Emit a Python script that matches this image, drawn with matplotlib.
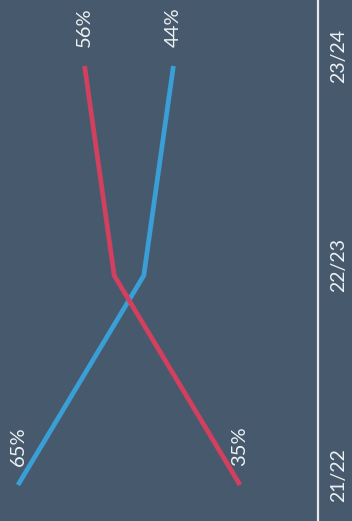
import matplotlib.pyplot as plt
import matplotlib.transforms as mtransforms

seasons = ["21/22", "22/23", "23/24"]
blue_vals = [65, 48, 44]
red_vals = [35, 52, 56]

bg = "#475a6d"
blue = "#3a9fd6"
red = "#d3405f"
txt = "#eef1f3"

plt.rcParams["font.family"] = ["Lato", "DejaVu Sans"]

fig = plt.figure(figsize=(3.52, 5.21), dpi=100, facecolor=bg)
ax = fig.add_axes([0, 0, 318 / 352, 1])
ax.set_facecolor(bg)

pos = list(range(len(seasons)))
ax.plot(blue_vals, pos, color=blue, lw=3.4, solid_capstyle="butt")
ax.plot(red_vals, pos, color=red, lw=3.4, solid_capstyle="butt")

# value labels at the ends of each line
for vals in (blue_vals, red_vals):
    for i in (0, len(vals) - 1):
        ax.annotate(f"{vals[i]}%", (vals[i], pos[i]), xytext=(0, 14),
                    textcoords="offset points", rotation=90,
                    ha="center", va="bottom", color=txt, fontsize=14.5)

ax.set_xlim(67.43, 24.46)
ax.set_ylim(-0.172, 2.315)

ax.set_xticks([])
ax.set_yticks(pos)
ax.set_yticklabels(seasons, rotation=90, va="center", color=txt, fontsize=14)
ax.yaxis.tick_right()
ax.tick_params(axis="y", length=0, pad=9)
shift = mtransforms.ScaledTranslation(0, 10 / 100, fig.dpi_scale_trans)
for lab in ax.get_yticklabels():
    lab.set_transform(lab.get_transform() + shift)

for s in ("top", "bottom", "left"):
    ax.spines[s].set_visible(False)
ax.spines["right"].set_color("#e6e9ec")
ax.spines["right"].set_linewidth(1.6)

fig.savefig("out.png", dpi=100, facecolor=bg)
